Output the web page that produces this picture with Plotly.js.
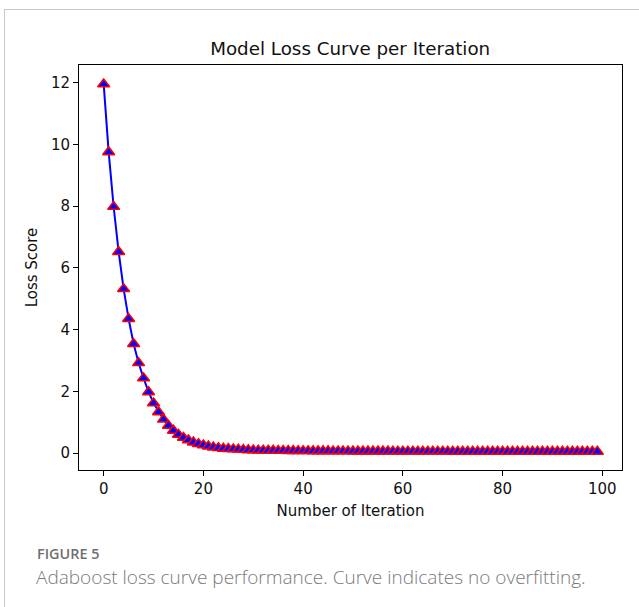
<!DOCTYPE html>
<html>
<head>
<meta charset="utf-8">
<script src="https://cdn.plot.ly/plotly-3.0.1.min.js"></script>
<style>
  html, body { margin: 0; padding: 0; background: #ffffff; }
  #wrap { position: relative; width: 639px; height: 607px; overflow: hidden; }
  #card { position: absolute; left: 4px; top: 9px; width: 700px; height: 700px;
          border-left: 1.5px solid #c9c9c9; border-top: 1.5px solid #c9c9c9; }
  #chart { position: absolute; left: 0; top: 0; width: 639px; height: 607px; }
  #figlabel { position: absolute; left: 37px; top: 544px; line-height: 20px; font-family: "Open Sans", sans-serif;
              font-size: 14.4px; font-weight: 600; color: #6f6f6f; }
  #caption { position: absolute; left: 36px; top: 565px; line-height: 24px; font-family: "Open Sans", sans-serif;
             font-size: 19px; font-weight: 300; color: #7a7a7a; white-space: nowrap; }
</style>
</head>
<body>
<div id="wrap">
  <div id="card"></div>
  <div id="chart"></div>
  <div id="figlabel">FIGURE 5</div>
  <div id="caption">Adaboost loss curve performance. Curve indicates no overfitting.</div>
</div>
<script>
// Iterations 0..99
var iterations = [];
for (var i = 0; i < 100; i++) iterations.push(i);

// Loss values
var lossScores = [
  11.95, 9.75, 7.98, 6.52, 5.32, 4.35, 3.54, 2.92, 2.43, 1.98,
  1.62, 1.33, 1.09, 0.89, 0.73, 0.60, 0.50, 0.42, 0.35, 0.30,
  0.26, 0.22, 0.19, 0.17, 0.15, 0.14, 0.13, 0.12, 0.11, 0.10,
  0.095, 0.09, 0.088, 0.085, 0.083, 0.08, 0.078, 0.076, 0.075, 0.073,
  0.072, 0.07, 0.069, 0.068, 0.067, 0.066, 0.065, 0.064, 0.063, 0.062,
  0.061, 0.061, 0.06, 0.06, 0.059, 0.059, 0.058, 0.058, 0.057, 0.057,
  0.056, 0.056, 0.056, 0.055, 0.055, 0.055, 0.054, 0.054, 0.054, 0.054,
  0.053, 0.053, 0.053, 0.053, 0.052, 0.052, 0.052, 0.052, 0.052, 0.051,
  0.051, 0.051, 0.051, 0.051, 0.051, 0.05, 0.05, 0.05, 0.05, 0.05,
  0.05, 0.05, 0.05, 0.05, 0.05, 0.05, 0.05, 0.05, 0.05, 0.05
];

var xTicks = [0, 20, 40, 60, 80, 100];
var yTicks = [0, 2, 4, 6, 8, 10, 12];

var chartTitle = "Model Loss Curve per Iteration";
var xTitle = "Number of Iteration";
var yTitle = "Loss Score";

var trace = {
  x: iterations,
  y: lossScores,
  type: "scatter",
  mode: "lines+markers",
  line: { color: "#0000ff", width: 2 },
  marker: { symbol: "triangle-up", size: 10.5, color: "#0000ff",
            line: { color: "#ff0000", width: 1.5 } },
  hoverinfo: "x+y"
};

var font = "DejaVu Sans, sans-serif";

var layout = {
  width: 639, height: 607,
  paper_bgcolor: "rgba(0,0,0,0)",
  plot_bgcolor: "#ffffff",
  margin: { l: 79, r: 17, t: 65, b: 137 },
  showlegend: false,
  title: { text: chartTitle, font: { family: font, size: 18.3, color: "#111" },
           x: 0.548, xanchor: "center", y: 1 - 49 / 607, yanchor: "middle", yref: "container" },
  xaxis: {
    range: [-4.95, 103.95], tickvals: xTicks, ticktext: xTicks.map(String),
    ticks: "outside", ticklen: 5, tickwidth: 1, tickcolor: "#000",
    showline: true, linecolor: "#000", linewidth: 1, mirror: true,
    showgrid: false, zeroline: false,
    tickfont: { family: font, size: 15, color: "#111" },
    title: { text: xTitle, font: { family: font, size: 15, color: "#111" }, standoff: 8 }
  },
  yaxis: {
    range: [-0.546, 12.57], tickvals: yTicks, ticktext: yTicks.map(String),
    ticks: "outside", ticklen: 5, tickwidth: 1, tickcolor: "#000",
    showline: true, linecolor: "#000", linewidth: 1, mirror: true,
    showgrid: false, zeroline: false,
    tickfont: { family: font, size: 15, color: "#111" },
    title: { text: yTitle, font: { family: font, size: 15, color: "#111" }, standoff: 9 }
  }
};

Plotly.newPlot("chart", [trace], layout, { displayModeBar: false, staticPlot: true });
</script>
</body>
</html>
